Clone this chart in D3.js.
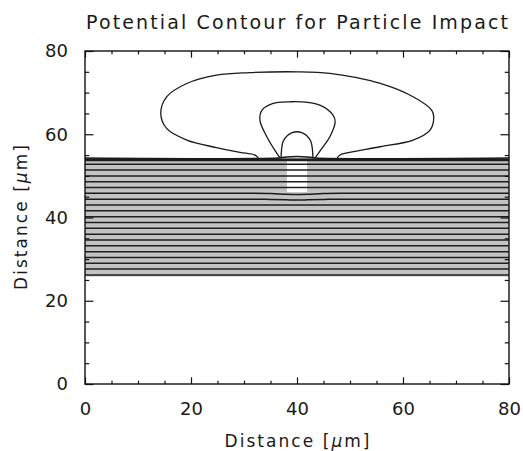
<!DOCTYPE html>
<html>
<head>
<meta charset="utf-8">
<title>Potential Contour for Particle Impact</title>
<script src="https://d3js.org/d3.v7.min.js"></script>
<style>
  body { margin: 0; background: #fff; }
  text { font-family: 'DejaVu Sans', sans-serif; fill: #1a1a1a; }
</style>
</head>
<body>
<svg id="chart" width="523" height="451"></svg>
<script>
// axis ticks
var majorTicks = [0, 20, 40, 60, 80];
var minorTicks = [5, 10, 15, 25, 30, 35, 45, 50, 55, 65, 70, 75];

// dielectric layer (gray band) and the hole in it
var layer = {x0: 0, x1: 80, y0: 25.8, y1: 54.3};
var hole = {x0: 38.1, x1: 41.9, y0: 46.1, y1: 54.0};

// straight contour levels inside the layer
var bandLevels = [52.8, 51.4, 50.0, 48.6, 47.2, 43.0, 41.6, 40.2, 38.8, 37.4,
                  36.0, 34.6, 33.2, 31.8, 30.4, 29.0, 27.6, 26.2];
// thick cluster at the surface
var surfaceLevels = [54.0, 53.7];

// contours that bend slightly under the hole
var dipLine1 = [[0, 45.8], [32, 45.8], [35, 45.75], [38, 45.6], [40, 45.55], [42, 45.6], [45, 45.75], [48, 45.8], [80, 45.8]];
var dipLine2 = [[0, 44.4], [31, 44.4], [35, 44.35], [38, 44.25], [40, 44.2], [42, 44.25], [45, 44.35], [49, 44.4], [80, 44.4]];
var surfaceLine = [[0, 54.3], [36.5, 54.3], [38, 54.55], [40, 54.65], [42, 54.55], [43.5, 54.3], [80, 54.3]];

// contours above the surface
var outerContour = [[32.7, 54.3], [32.1, 55.0], [29.9, 55.5], [24.8, 56.8], [19.2, 58.6], [15.4, 61.4],
  [14.3, 65.0], [15.4, 69.0], [19.2, 72.2], [24.8, 74.2], [31.1, 74.8], [40.0, 75.0], [46.2, 74.6],
  [55.7, 72.2], [61.9, 69.0], [65.4, 65.8], [65.8, 64.2], [65.1, 61.0], [61.9, 58.6], [55.7, 57.0],
  [49.4, 55.5], [48.1, 55.0], [47.6, 54.3]];
var middleContour = [[36.8, 54.3], [36.2, 55.4], [34.3, 59.4], [33.0, 63.4], [33.4, 65.8], [35.5, 67.4],
  [38.7, 67.8], [40.6, 67.8], [44.3, 67.0], [46.8, 64.6], [47.2, 63.0], [46.2, 59.4], [44.7, 56.6], [43.4, 54.3]];
var innerContour = [[37.0, 54.3], [37.1, 56.5], [37.4, 58.3], [38.2, 59.7], [39.1, 60.4], [40.0, 60.6],
  [40.9, 60.4], [41.8, 59.7], [42.6, 58.3], [42.9, 56.5], [43.0, 54.3]];

var margin = {left: 85, top: 51, right: 14, bottom: 67};
var width = 523 - margin.left - margin.right,
    height = 451 - margin.top - margin.bottom;

var svg = d3.select("#chart");
var g = svg.append("g").attr("transform", "translate(" + margin.left + "," + margin.top + ")");

var x = d3.scaleLinear().domain([0, 80]).range([0, width]);
var y = d3.scaleLinear().domain([0, 80]).range([height, 0]);

// gray layer + white hole
g.append("rect")
  .attr("x", x(layer.x0)).attr("y", y(layer.y1))
  .attr("width", x(layer.x1) - x(layer.x0)).attr("height", y(layer.y0) - y(layer.y1))
  .attr("fill", "#c3c3c3");
g.append("rect")
  .attr("x", x(hole.x0)).attr("y", y(hole.y1))
  .attr("width", x(hole.x1) - x(hole.x0)).attr("height", y(hole.y0) - y(hole.y1))
  .attr("fill", "#fff");

// straight contour lines
g.selectAll(".band")
  .data(bandLevels.concat(surfaceLevels))
  .enter().append("line")
  .attr("x1", x(0)).attr("x2", x(80))
  .attr("y1", d => y(d)).attr("y2", d => y(d))
  .attr("stroke", "#1e1e1e").attr("stroke-width", 1.5);

var line = d3.line().x(d => x(d[0])).y(d => y(d[1])).curve(d3.curveCatmullRom);

g.selectAll(".contour")
  .data([dipLine1, dipLine2, surfaceLine, outerContour, middleContour, innerContour])
  .enter().append("path")
  .attr("d", line)
  .attr("fill", "none")
  .attr("stroke", "#1a1a1a")
  .attr("stroke-width", (d, i) => i < 3 ? 1.5 : 1.3);

// axes, ticks inside on all four sides
var xLen = 0.02 * height, yLen = 0.02 * width;
function drawAxis(axisFn, scale, ticks, len, labels, tr) {
  var a = g.append("g").attr("transform", tr)
    .call(axisFn(scale).tickValues(ticks).tickSize(-len).tickPadding(12)
      .tickFormat(labels ? d3.format("d") : ""));
  a.select(".domain").remove();
  a.selectAll("line").attr("stroke", "#111").attr("stroke-width", 1.2);
  a.selectAll("text").style("font-size", "18px").style("font-family", "'DejaVu Sans', sans-serif")
    .attr("fill", "#1a1a1a");
  return a;
}
drawAxis(d3.axisBottom, x, majorTicks, xLen, true, "translate(0," + height + ")")
  .selectAll("text").attr("dy", "1.05em");
drawAxis(d3.axisBottom, x, minorTicks, xLen / 2, false, "translate(0," + height + ")");
drawAxis(d3.axisTop, x, majorTicks, -xLen, false, "translate(0,0)")
  .selectAll("line").attr("y2", xLen);
drawAxis(d3.axisTop, x, minorTicks, -xLen / 2, false, "translate(0,0)")
  .selectAll("line").attr("y2", xLen / 2);
drawAxis(d3.axisLeft, y, majorTicks, yLen, true, "translate(0,0)")
  .selectAll("text").attr("x", -17);
drawAxis(d3.axisLeft, y, minorTicks, yLen / 2, false, "translate(0,0)");
drawAxis(d3.axisRight, y, majorTicks, -yLen, false, "translate(" + width + ",0)")
  .selectAll("line").attr("x2", -yLen);
drawAxis(d3.axisRight, y, minorTicks, -yLen / 2, false, "translate(" + width + ",0)")
  .selectAll("line").attr("x2", -yLen / 2);

// frame
g.append("rect")
  .attr("width", width).attr("height", height)
  .attr("fill", "none").attr("stroke", "#111").attr("stroke-width", 1.4);

// titles
svg.append("text")
  .attr("x", margin.left + width / 2).attr("y", 29)
  .attr("text-anchor", "middle")
  .attr("textLength", 422).attr("lengthAdjust", "spacing")
  .style("font-size", "19px")
  .text("Potential Contour for Particle Impact");

function axisTitle(sel) {
  sel.append("tspan").text("Distance [");
  sel.append("tspan").style("font-style", "italic").text("\u03bc");
  sel.append("tspan").text("m]");
}
svg.append("text")
  .attr("x", margin.left + width / 2).attr("y", 447)
  .attr("text-anchor", "middle")
  .attr("textLength", 145).attr("lengthAdjust", "spacing")
  .style("font-size", "17px")
  .call(axisTitle);
svg.append("text")
  .attr("transform", "translate(27," + (margin.top + height / 2) + ") rotate(-90)")
  .attr("text-anchor", "middle")
  .attr("textLength", 145).attr("lengthAdjust", "spacing")
  .style("font-size", "17px")
  .call(axisTitle);
</script>
</body>
</html>
